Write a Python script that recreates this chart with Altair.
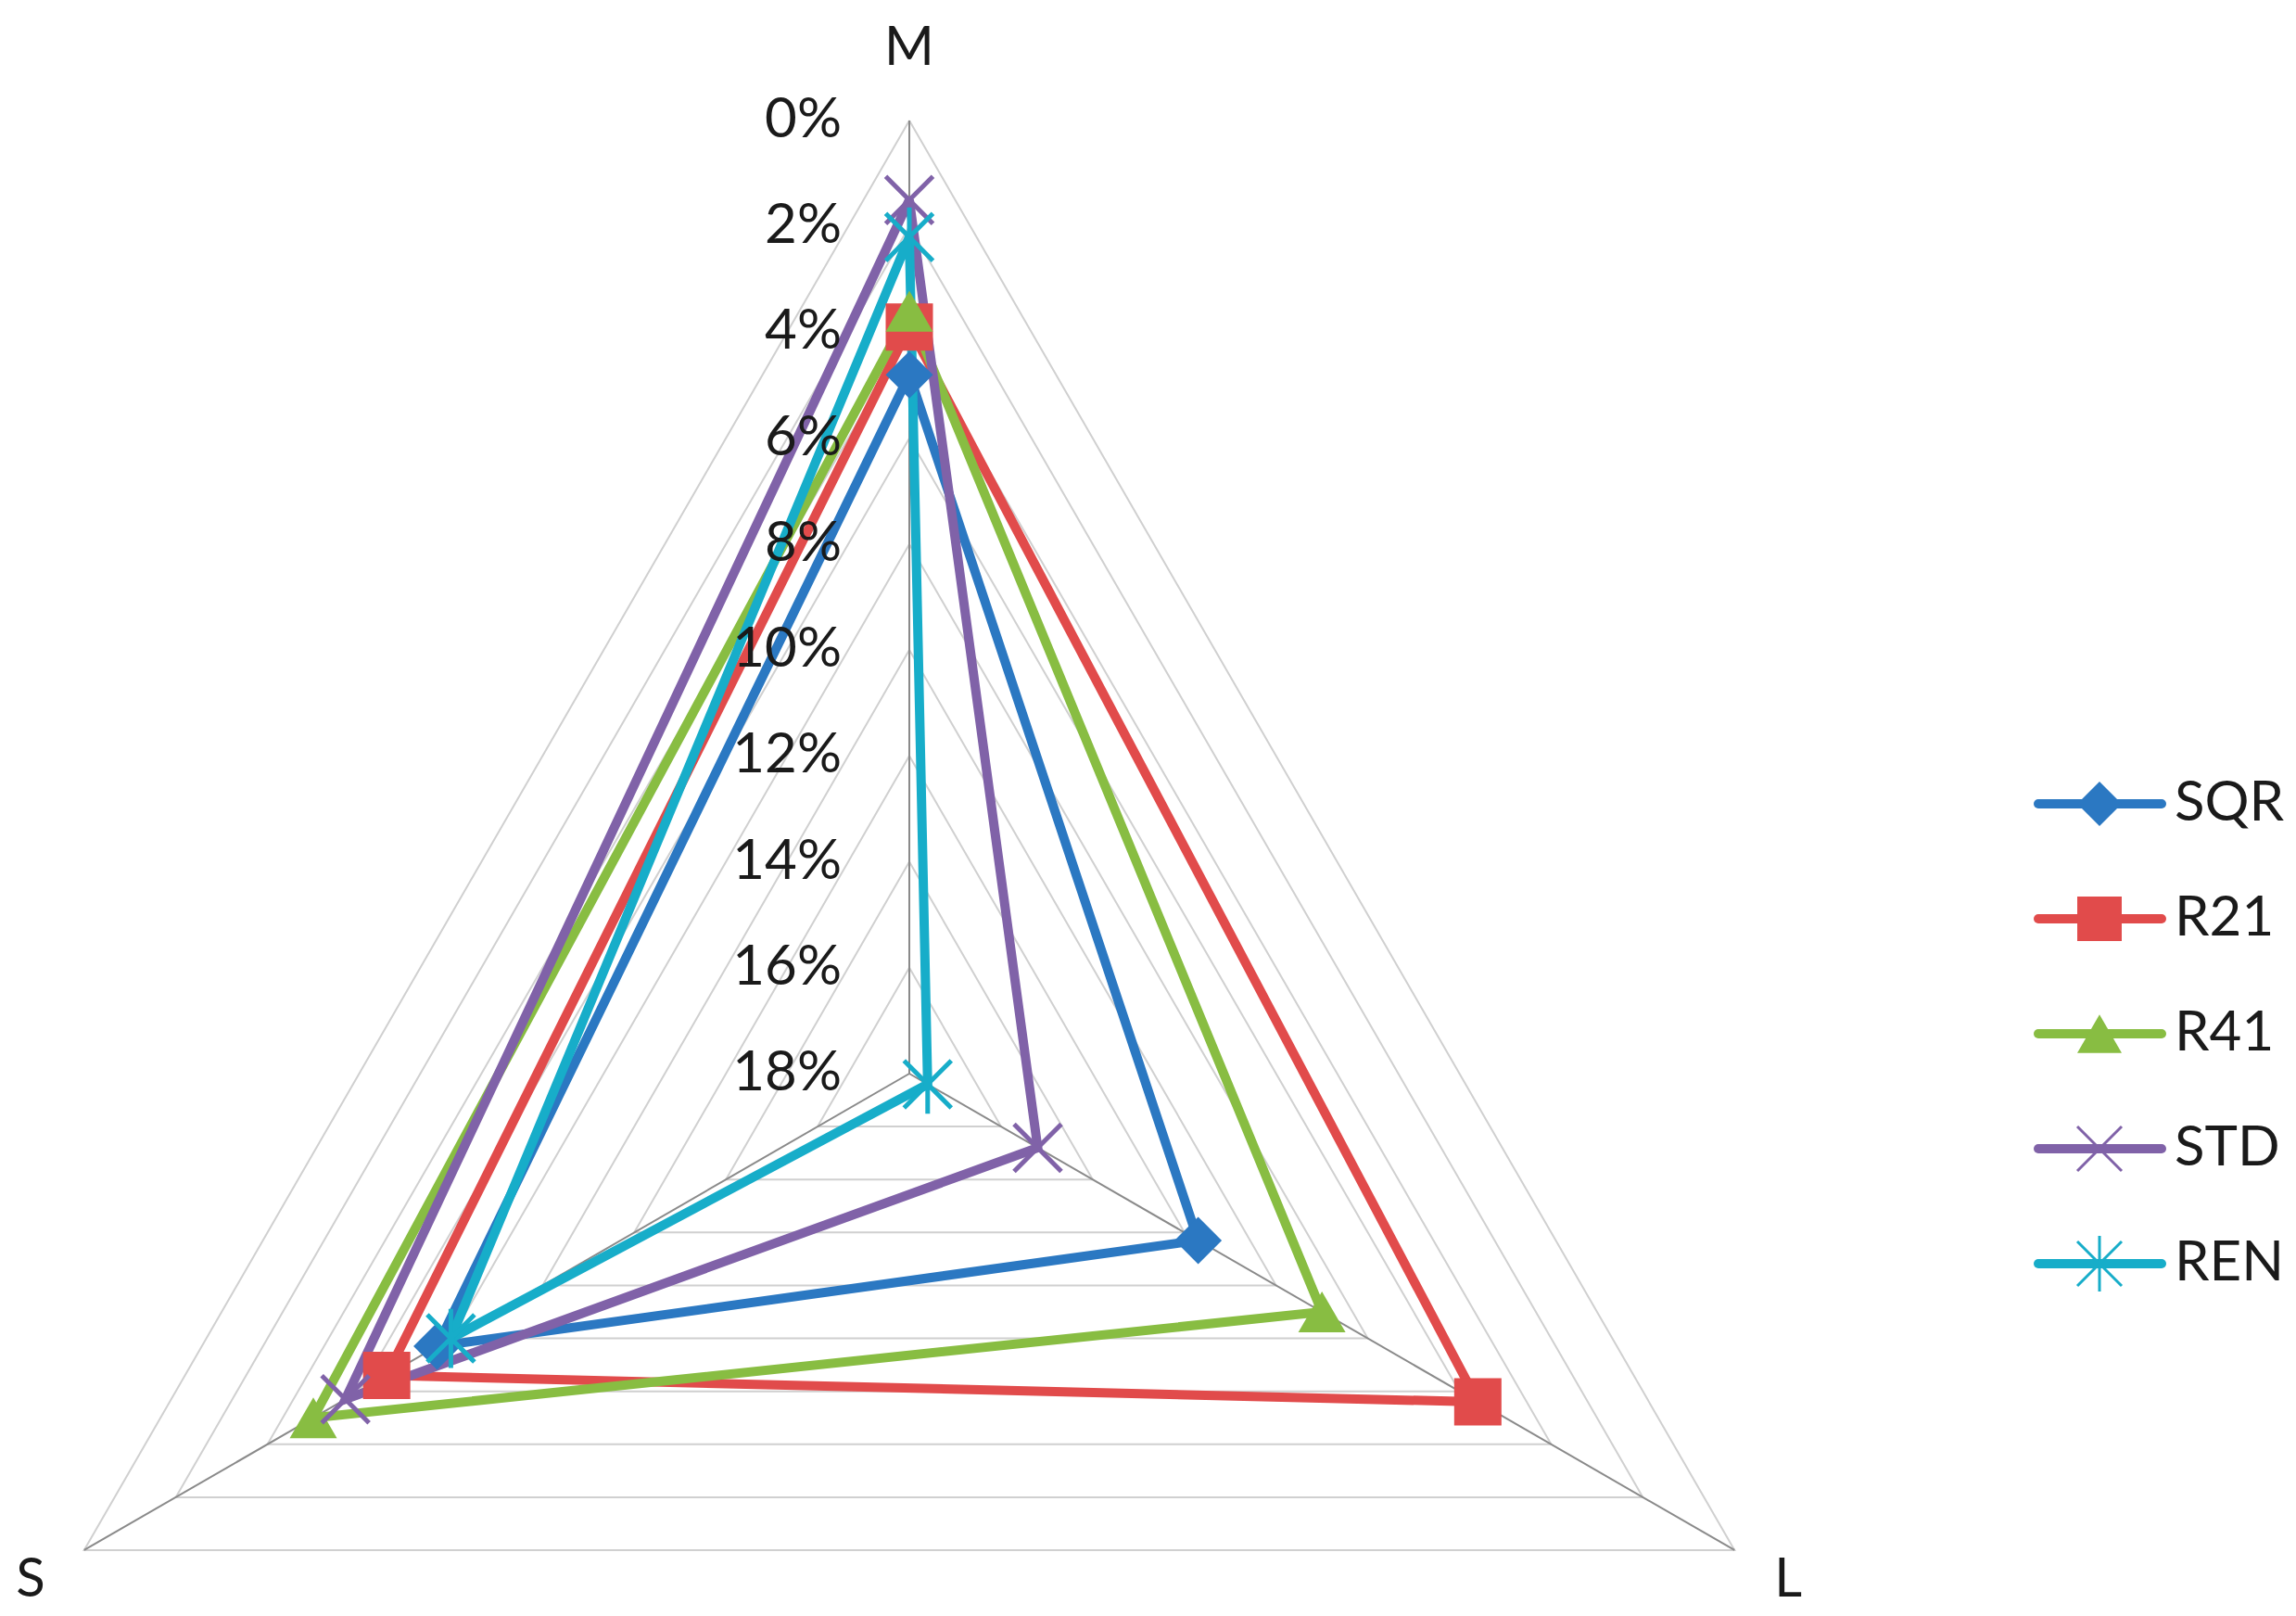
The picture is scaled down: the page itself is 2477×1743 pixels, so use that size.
import altair as alt
import pandas as pd

# ---- data ----
categories = ["M", "L", "S"]
series = ["SQR", "R21", "R41", "STD", "REN"]
SQR = [4.8, 11.7, 7.7]
R21 = [3.9, 5.6, 6.6]
R41 = [3.6, 9.0, 5.0]
STD = [1.5, 15.2, 5.7]
REN = [2.2, 17.6, 8.0]
tick_values = [0, 2, 4, 6, 8, 10, 12, 14, 16, 18]
tick_labels = ["0%", "2%", "4%", "6%", "8%", "10%", "12%", "14%", "16%", "18%"]
colors = ["#2b78c2", "#e14b4b", "#88bd42", "#8062a8", "#17adc9"]

series_values = {"SQR": SQR, "R21": R21, "R41": R41, "STD": STD, "REN": REN}
AXIS_MAX = tick_values[-1]
FONT = "Lato"

# ---- tables built from the arrays ----
rows = []
for si, s in enumerate(series):
    vals = series_values[s]
    for i, c in enumerate(categories + [categories[0]]):
        rows.append({"series": s, "sidx": si, "cat": c, "idx": i, "value": vals[i % len(categories)]})
line_df = pd.DataFrame(rows)
pt_df = line_df[line_df["idx"] < len(categories)].reset_index(drop=True)

grid_rows = []
for t in tick_values[:-1]:
    for i in range(len(categories) + 1):
        grid_rows.append({"tick": t, "idx": i, "value": t})
grid_df = pd.DataFrame(grid_rows)

tick_df = pd.DataFrame({"value": tick_values, "label": tick_labels, "idx": [0] * len(tick_values)})
cat_df = pd.DataFrame({"cat": categories, "idx": list(range(len(categories))), "value": [0] * len(categories)})
legend_df = pd.DataFrame({"series": series, "sidx": list(range(len(series)))})

n = len(categories)


def polar(ch, radius_expr=None):
    r = radius_expr or f"({AXIS_MAX} - datum.value) / {AXIS_MAX}"
    return ch.transform_calculate(
        r=r,
        ang=f"PI / 2 - datum.idx * 2 * PI / {n}",
    ).transform_calculate(
        px="datum.r * cos(datum.ang)",
        py="datum.r * sin(datum.ang)",
        cx="0",
        cy="0",
    )


W, H = 1960, 1727
xs = alt.Scale(domain=[-0.9465, 0.9601], nice=False, zero=False)
ys = alt.Scale(domain=[-0.5613, 1.1187], nice=False, zero=False)
X = alt.X("px:Q", scale=xs, axis=None)
Y = alt.Y("py:Q", scale=ys, axis=None)

color = alt.Color("series:N", scale=alt.Scale(domain=series, range=colors), legend=None)
x_path = "M-1,-1L1,1M-1,1L1,-1"
star_path = "M-1,-1L1,1M-1,1L1,-1M0,-1.25L0,1.25"
shape = alt.Shape(
    "series:N",
    scale=alt.Scale(domain=series, range=["diamond", "square", "triangle-up", x_path, star_path]),
    legend=None,
)

MS = 2600

grid = polar(alt.Chart(grid_df)).mark_line(color="#d0d0d0", strokeWidth=2).encode(
    x=X, y=Y, detail="tick:N", order="idx:Q"
)

spokes = polar(alt.Chart(cat_df), "1").mark_rule(color="#8a8a8a", strokeWidth=2).encode(
    x=X, y=Y, x2="cx:Q", y2="cy:Q"
)

lines = polar(alt.Chart(line_df)).mark_line(strokeWidth=10, strokeJoin="miter").encode(
    x=X, y=Y, color=color, detail="series:N", order="idx:Q"
)

filled_pts = polar(alt.Chart(pt_df)).transform_filter("datum.sidx < 3").mark_point(
    filled=True, size=MS, opacity=1
).encode(x=X, y=Y, color=color, shape=shape)

open_pts = polar(alt.Chart(pt_df)).transform_filter("datum.sidx >= 3").mark_point(
    filled=False, size=MS, strokeWidth=5, opacity=1
).encode(x=X, y=Y, color=color, shape=shape)

tick_text = polar(alt.Chart(tick_df)).mark_text(
    align="right", baseline="middle", dx=-73, font=FONT, fontSize=60, color="#1a1a1a"
).encode(x=X, y=Y, text="label:N")

cat_text = polar(alt.Chart(cat_df), "datum.cat == 'M' ? 1.075 : 1.065").mark_text(
    align="center", baseline="middle", font=FONT, fontSize=58, color="#1a1a1a"
).encode(x=X, y=Y, text="cat:N")

radar = alt.layer(grid, spokes, lines, filled_pts, open_pts, tick_text, cat_text).properties(
    width=W, height=H
)

# ---- legend panel ----
LW = 500
p0, step = 859, 124
ly = alt.Y(
    "sidx:Q",
    axis=None,
    scale=alt.Scale(domain=[-p0 / step, -p0 / step + H / step], reverse=True, nice=False, zero=False),
)
leg_line = alt.Chart(legend_df).mark_rule(strokeWidth=10, strokeCap="round").encode(
    x=alt.value(231), x2=alt.value(364), y=ly, color=color
)
leg_fill = alt.Chart(legend_df).transform_filter("datum.sidx < 3").mark_point(
    filled=True, size=2300, opacity=1
).encode(x=alt.value(297), y=ly, color=color, shape=shape)
leg_open = alt.Chart(legend_df).transform_filter("datum.sidx >= 3").mark_point(
    filled=False, size=2300, strokeWidth=3, opacity=1
).encode(x=alt.value(297), y=ly, color=color, shape=shape)
leg_text = alt.Chart(legend_df).mark_text(
    align="left", baseline="middle", font=FONT, fontSize=60, color="#1a1a1a"
).encode(x=alt.value(378), y=ly, text="series:N")

legend = alt.layer(leg_line, leg_fill, leg_open, leg_text).properties(width=LW, height=H)

chart = (
    alt.hconcat(radar, legend, spacing=0)
    .properties(padding=0)
    .configure_view(stroke=None)
)

chart.save("out.html", embed_options={"renderer": "svg", "actions": False})
